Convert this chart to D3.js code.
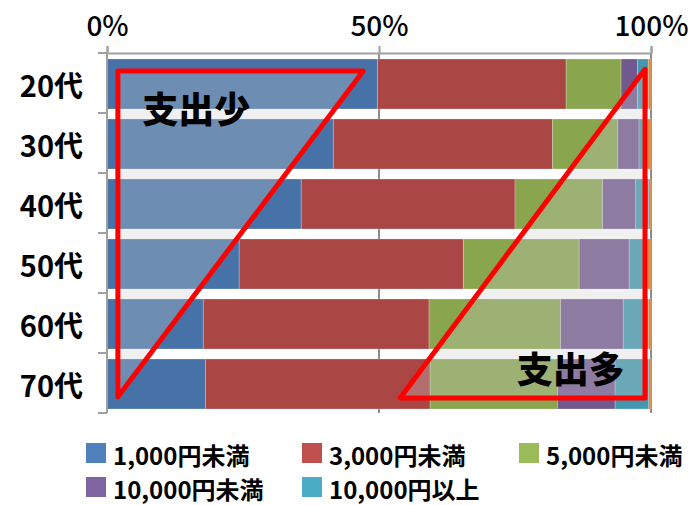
<!DOCTYPE html>
<html>
<head>
<meta charset="utf-8">
<script src="https://cdn.jsdelivr.net/npm/d3@7/dist/d3.min.js"></script>
<style>
  html, body { margin: 0; padding: 0; background: #fff; }
  svg { display: block; }
  text { font-family: "Noto Sans CJK JP", "Noto Sans", sans-serif; font-weight: 700; fill: #000; }
</style>
</head>
<body>
<svg id="chart" width="690" height="505"></svg>
<script>
// Age groups (rows) and spending bands (stacked segments, % of respondents)
const categories = ["20代", "30代", "40代", "50代", "60代", "70代"];
const seriesNames = ["1,000円未満", "3,000円未満", "5,000円未満", "10,000円未満", "10,000円以上", "無回答"];

const under1000  = [49.7, 41.6, 35.7, 24.3, 17.7, 18.1];
const under3000  = [34.7, 40.3, 39.3, 41.2, 41.5, 41.3];
const under5000  = [10.1, 12.0, 16.1, 21.3, 24.2, 23.4];
const under10000 = [3.0, 3.9, 6.1, 9.2, 11.5, 10.6];
const over10000  = [2.0, 1.6, 2.4, 3.4, 4.6, 6.2];
const noAnswer   = [0.5, 0.6, 0.4, 0.6, 0.5, 0.4];

const seriesValues = [under1000, under3000, under5000, under10000, over10000, noAnswer];
const legendCount = 5; // the last band is not listed in the legend

const tickValues = [0, 50, 100];
const tickLabels = ["0%", "50%", "100%"];

// Annotation shapes, in axis units: x in %, y in rows (0 = top of 20代, 6 = bottom of 70代)
const lowTriangle  = [[2.0, 0.30], [47.1, 0.30], [2.0, 5.73]];
const highTriangle = [[53.9, 5.75], [98.9, 5.75], [98.9, 0.27]];
const notes = [
  { text: "支出少", x: 6.5, y: 1.17 },
  { text: "支出多", x: 75.3, y: 5.5 }
];

// Bar and legend colours
const barColors    = ["#4672a8", "#aa4644", "#89a54e", "#71588f", "#4198af", "#db843d"];
const legendColors = ["#4f81bd", "#c0504d", "#9bbb59", "#8064a2", "#4bacc6"];

const svg = d3.select("#chart");
const plot = { left: 107, right: 651, top: 53, bottom: 413 };

const x = d3.scaleLinear().domain([0, 100]).range([plot.left, plot.right]);
const y = d3.scaleBand().domain(categories).range([plot.top, plot.bottom]).paddingInner(1 / 6).paddingOuter(1 / 12);
const rows = d3.scaleLinear().domain([0, categories.length]).range([plot.top, plot.bottom]);

// Stack table
const table = categories.map((c, i) => {
  const row = { category: c };
  seriesNames.forEach((s, j) => { row[s] = seriesValues[j][i]; });
  return row;
});
const stacked = d3.stack().keys(seriesNames)(table);

// Vertical grid lines at 50% and 100%
svg.append("g")
  .selectAll("line")
  .data(tickValues.slice(1))
  .join("line")
  .attr("x1", d => x(d)).attr("x2", d => x(d))
  .attr("y1", plot.top).attr("y2", plot.bottom)
  .attr("stroke", "#8c8c8c").attr("stroke-width", 2);

// Stacked bars
svg.append("g")
  .selectAll("g")
  .data(stacked)
  .join("g")
  .attr("fill", (d, i) => barColors[i])
  .selectAll("rect")
  .data(d => d)
  .join("rect")
  .attr("x", d => x(d[0]))
  .attr("width", d => x(d[1]) - x(d[0]))
  .attr("y", d => y(d.data.category) + 1)
  .attr("height", y.bandwidth())
  .attr("stroke", "rgba(255,255,255,0.3)")
  .attr("stroke-width", 0.8);

// Top axis
const xAxis = d3.axisTop(x).tickValues(tickValues).tickFormat((d, i) => tickLabels[i]).tickSize(7).tickPadding(10);
const gx = svg.append("g").attr("transform", `translate(0,${plot.top})`).call(xAxis);
gx.select(".domain").attr("stroke", "#a0a0a0").attr("stroke-width", 2);
gx.selectAll(".tick line").attr("stroke", "#a0a0a0").attr("stroke-width", 2);
gx.selectAll(".tick text").attr("font-size", 28).style("font-weight", 500).attr("fill", "#000");

// Left axis with ticks at row boundaries
const gy = svg.append("g").attr("transform", `translate(${plot.left},0)`);
gy.append("line")
  .attr("y1", plot.top).attr("y2", plot.bottom)
  .attr("stroke", "#a0a0a0").attr("stroke-width", 2);
gy.selectAll("line.rowtick")
  .data(d3.range(categories.length + 1))
  .join("line")
  .attr("class", "rowtick")
  .attr("x1", -9).attr("x2", 0)
  .attr("y1", d => rows(d)).attr("y2", d => rows(d))
  .attr("stroke", "#a0a0a0").attr("stroke-width", 2);
gy.selectAll("text")
  .data(categories)
  .join("text")
  .attr("x", -24)
  .attr("y", d => y(d) + y.bandwidth() / 2 + 1)
  .attr("text-anchor", "end")
  .attr("dominant-baseline", "central")
  .attr("font-size", 29)
  .text(d => d);

// Red triangles
const tri = d3.line().x(d => x(d[0])).y(d => rows(d[1])).curve(d3.curveLinearClosed);
svg.append("g")
  .selectAll("path")
  .data([lowTriangle, highTriangle])
  .join("path")
  .attr("d", tri)
  .attr("fill", "rgba(205,205,205,0.3)")
  .attr("stroke", "#ff0000")
  .attr("stroke-width", 5)
  .attr("stroke-linejoin", "round");

// Annotation labels
svg.append("g")
  .selectAll("text")
  .data(notes)
  .join("text")
  .attr("x", d => x(d.x))
  .attr("y", d => rows(d.y))
  .attr("font-size", 36)
  .style("font-weight", 900)
  .text(d => d.text);

// Legend
const legendItems = seriesNames.slice(0, legendCount).map((name, i) => ({ name, i }));
const legendCols = [86, 302, 519];
const legendRows = [453, 487];
const lg = svg.append("g")
  .selectAll("g")
  .data(legendItems)
  .join("g")
  .attr("transform", d => `translate(${legendCols[d.i % 3]},${legendRows[Math.floor(d.i / 3)]})`);
lg.append("rect")
  .attr("x", 0).attr("y", -10)
  .attr("width", 20).attr("height", 20)
  .attr("fill", d => legendColors[d.i]);
lg.append("text")
  .attr("x", 27).attr("y", 1)
  .attr("dominant-baseline", "central")
  .attr("font-size", 24)
  .text(d => d.name);
</script>
</body>
</html>
